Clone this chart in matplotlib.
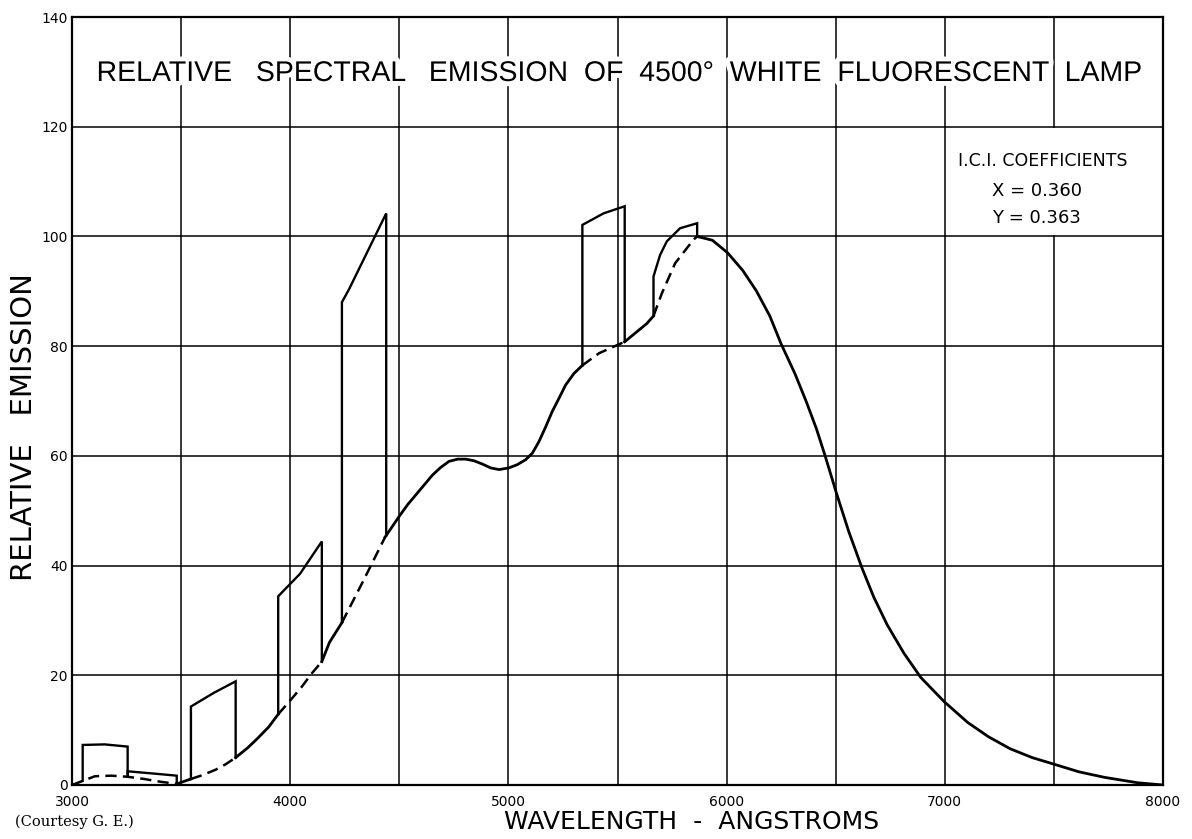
import numpy as np
import matplotlib
matplotlib.use("Agg")
from matplotlib import pyplot as plt
import matplotlib.patheffects as pe

# continuum of the lamp (wavelength in angstroms, relative emission)
cont_wl = [3000, 3105, 3180, 3255, 3330, 3404, 3480, 3545, 3598, 3659, 3705,
           3750, 3803, 3848, 3902, 3945, 4000, 4053, 4098, 4145, 4180, 4237,
           4336, 4435, 4500, 4538, 4576, 4614, 4652, 4690, 4728, 4767, 4805,
           4843, 4881, 4919, 4957, 5002, 5041, 5079, 5110, 5140, 5171, 5201,
           5232, 5262, 5300, 5339, 5415, 5533, 5588, 5634, 5665, 5703, 5764,
           5848, 5865, 5935, 6005, 6074, 6136, 6198, 6250, 6313, 6365, 6412,
           6450, 6505, 6559, 6620, 6675, 6736, 6813, 6890, 6997, 7105, 7200,
           7300, 7400, 7500, 7615, 7731, 7885, 8000]
cont_val = [0, 1.6, 1.7, 1.5, 1.1, 0.6, 0.2, 1.1, 1.8, 2.8, 3.8,
            5.0, 6.7, 8.4, 10.6, 12.9, 15.4, 17.9, 20.3, 22.5, 26.0, 29.6,
            37.3, 45.2, 49.0, 51.1, 52.9, 54.7, 56.5, 57.9, 59.0, 59.4, 59.4,
            59.1, 58.5, 57.8, 57.5, 57.8, 58.4, 59.3, 60.5, 62.6, 65.3, 68.1,
            70.5, 72.9, 75.0, 76.5, 78.7, 80.8, 82.6, 84.1, 85.5, 89.6, 95.1,
            99.4, 100.0, 99.3, 97.0, 93.8, 90.1, 85.5, 80.4, 75.0, 69.9, 64.9,
            60.2, 53.0, 46.3, 39.6, 34.2, 29.2, 24.0, 19.6, 15.2, 11.4, 8.8,
            6.6, 5.0, 3.8, 2.4, 1.4, 0.4, 0]

# continuum hidden under the mercury lines is dashed
dashed_spans = [(3000, 3480), (3545, 3750), (3945, 4145), (4237, 4435),
                (5339, 5533), (5665, 5865)]

# mercury line blocks: top edge of each
hg_3130_wl = [3049, 3150, 3255]
hg_3130_val = [7.3, 7.4, 7.0]
hg_3341_wl = [3255, 3370, 3480]
hg_3341_val = [2.5, 2.1, 1.7]
hg_3650_wl = [3545, 3650, 3750]
hg_3650_val = [14.3, 16.8, 18.9]
hg_4047_wl = [3945, 4045, 4145]
hg_4047_val = [34.4, 38.5, 44.4]
hg_4358_wl = [4237, 4270, 4440]
hg_4358_val = [88.0, 90.4, 104.2]
hg_5461_wl = [5339, 5436, 5533]
hg_5461_val = [102.1, 104.2, 105.5]
hg_5780_wl = [5665, 5695, 5726, 5787, 5865]
hg_5780_val = [92.7, 96.6, 99.1, 101.5, 102.4]

lines = [(hg_3130_wl, hg_3130_val), (hg_3341_wl, hg_3341_val),
         (hg_3650_wl, hg_3650_val), (hg_4047_wl, hg_4047_val),
         (hg_4358_wl, hg_4358_val), (hg_5461_wl, hg_5461_val),
         (hg_5780_wl, hg_5780_val)]

xticks = [3000, 4000, 5000, 6000, 7000, 8000]
yticks = [0, 20, 40, 60, 80, 100, 120, 140]

fig = plt.figure(figsize=(11.92, 8.39), dpi=100)
ax = fig.add_axes([72/1192, 1-785/839, 1091/1192, 768/839])
ax.set_xlim(3000, 8000)
ax.set_ylim(0, 140)

# grid, with the 7500 line left out of the coefficient box
for gx in range(3500, 8000, 500):
    if gx == 7500:
        ax.plot([gx, gx], [0, 100], color="k", lw=1.1, zorder=1)
        ax.plot([gx, gx], [120, 140], color="k", lw=1.1, zorder=1)
    else:
        ax.plot([gx, gx], [0, 140], color="k", lw=1.1, zorder=1)
for gy in range(20, 140, 20):
    ax.plot([3000, 8000], [gy, gy], color="k", lw=1.1, zorder=1)

# continuum, split into solid and dashed pieces
cw = np.array(cont_wl, dtype=float)
cv = np.array(cont_val, dtype=float)
mid = (cw[:-1] + cw[1:]) / 2
is_dash = np.array([any(a <= m <= b for a, b in dashed_spans) for m in mid])
start = 0
for i in range(1, len(mid) + 1):
    if i == len(mid) or is_dash[i] != is_dash[start]:
        seg = slice(start, i + 1)
        if is_dash[start]:
            ax.plot(cw[seg], cv[seg], color="k", lw=1.8, dashes=(4.5, 2.5),
                    solid_capstyle="butt", zorder=3)
        else:
            ax.plot(cw[seg], cv[seg], color="k", lw=2.0, zorder=3,
                    solid_joinstyle="round")
        start = i

# mercury line blocks standing on the continuum
for wl, val in lines:
    base_l = np.interp(wl[0], cw, cv)
    base_r = np.interp(wl[-1], cw, cv)
    px = [wl[0]] + list(wl) + [wl[-1]]
    py = [base_l] + list(val) + [base_r]
    ax.plot(px, py, color="k", lw=1.7, zorder=3, solid_joinstyle="miter")

for s in ax.spines.values():
    s.set_linewidth(1.6)
ax.set_xticks(xticks)
ax.set_yticks(yticks)
ax.set_xticklabels([str(t) for t in xticks], fontsize=10)
ax.set_yticklabels([str(t) for t in yticks], fontsize=10)
ax.tick_params(length=0, pad=3)
ax.tick_params(axis="x", pad=7)

white = [pe.withStroke(linewidth=7, foreground="white")]
fig.text(620/1192, 1-74/839,
         "RELATIVE   SPECTRAL   EMISSION  OF  4500°  WHITE  FLUORESCENT  LAMP",
         ha="center", va="center", fontsize=20.5, family="Liberation Sans",
         path_effects=white, zorder=5)

ax.text(7061, 113.7, "I.C.I. COEFFICIENTS", fontsize=12.5, family="DejaVu Sans",
        ha="left", va="center")
ax.text(7216, 108.3, "X = 0.360", fontsize=13, family="DejaVu Sans",
        ha="left", va="center")
ax.text(7216, 103.4, "Y = 0.363", fontsize=13, family="DejaVu Sans",
        ha="left", va="center")

fig.text(24/1192, 1-427/839, "RELATIVE   EMISSION", rotation=90, ha="center",
         va="center", fontsize=21, family="DejaVu Sans")
fig.text(692/1192, 1-822/839, "WAVELENGTH  -  ANGSTROMS", ha="center",
         va="center", fontsize=18, family="DejaVu Sans")
fig.text(15/1192, 1-822/839, "(Courtesy G. E.)", ha="left", va="center",
         fontsize=10.5, family="DejaVu Serif")

fig.savefig("out.png", dpi=100)
